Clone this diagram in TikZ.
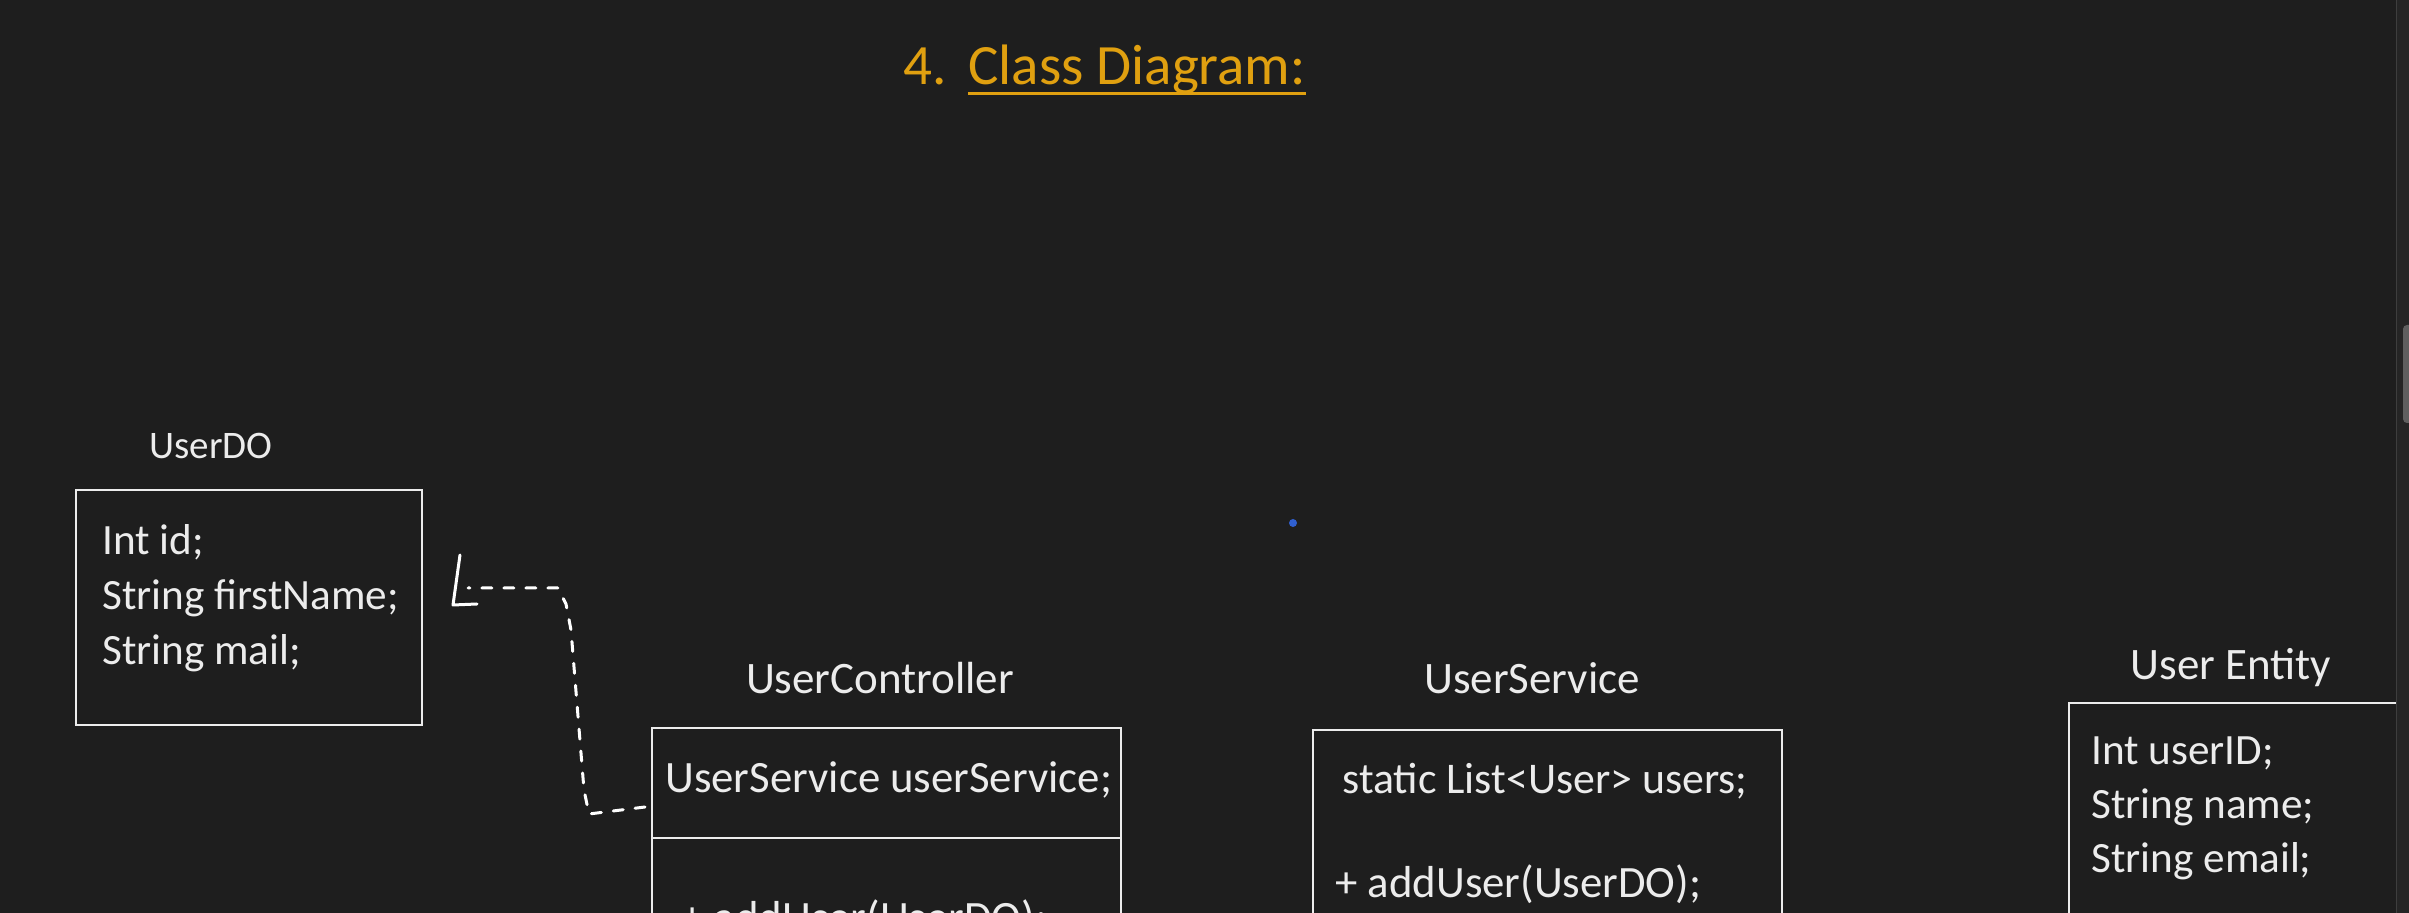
\documentclass[tikz,border=0pt]{standalone}
\usepackage{fontspec}
\setmainfont{Carlito}
\usetikzlibrary{positioning,calc}

\definecolor{bgdark}{RGB}{30,30,30}
\definecolor{paneldark}{RGB}{37,37,37}
\definecolor{thumbgray}{RGB}{95,95,95}
\definecolor{headorange}{RGB}{224,160,16}
\definecolor{chalk}{RGB}{236,236,236}
\definecolor{dotblue}{RGB}{48,96,208}

\tikzset{
  classbox/.style={draw=chalk, line width=1pt, inner sep=0pt, anchor=north west},
  classname/.style={text=chalk, font=\fontsize{22.5}{27}\selectfont, inner sep=0pt, anchor=base},
  member/.style={text=chalk, font=\fontsize{21.6}{27}\selectfont, inner sep=0pt, anchor=base west},
  bigmember/.style={member, font=\fontsize{22.4}{27}\selectfont},
  heading/.style={text=headorange, font=\fontsize{28.5}{34}\selectfont, inner sep=0pt, anchor=base west},
  scribble/.style={draw=white, line width=1.5pt, line cap=round, line join=round},
}

\begin{document}
\begin{tikzpicture}[x=0.5pt,y=-0.5pt]
\useasboundingbox (0,0) rectangle (2409,913);
\clip (0,0) rectangle (2409,913);
\fill[bgdark] (0,0) rectangle (2409,913);

% heading
\node[heading] (num) at (903,85) {4.};
\node[heading] (title) at (968,85) {Class Diagram:};
\draw[headorange, line width=1.5pt] ($(title.base west)+(0,9)$) -- ($(title.base east)+(0,9)$);

% UserDO
\node[classname, font=\fontsize{19.5}{24}\selectfont] (doname) at (211,459) {UserDO};
\node[classbox, minimum width=173pt, minimum height=117.5pt] (dobox) at (75,489) {};
\foreach \txt [count=\i] in {{Int id;}, {String firstName;}, {String mail;}}
  \node[member] (do-\i) at (102,500+55*\i) {\txt};

% UserController
\node[classname] (ctrlname) at (880,694) {UserController};
\node[classbox, minimum width=234.5pt, minimum height=150pt] (ctrlbox) at (651,727) {};
\draw[chalk, line width=1pt] ($(ctrlbox.north west)+(0,111)$) -- ($(ctrlbox.north east)+(0,111)$);
\node[bigmember] (ctrl-1) at (665,792) {UserService userService;};
\node[bigmember] (ctrl-2) at (681,932) {+ addUser(UserDO);};

% UserService
\node[classname] (svcname) at (1532,694) {UserService};
\node[classbox, minimum width=234.5pt, minimum height=150pt] (svcbox) at (1312,729) {};
\node[member, font=\fontsize{21.9}{27}\selectfont] (svc-1) at (1342,793) {static List<User> users;};
\node[bigmember] (svc-2) at (1335,897) {+ addUser(UserDO);};

% User Entity
\node[classname] (entname) at (2231,680) {User Entity};
\node[classbox, minimum width=200pt, minimum height=150pt] (entbox) at (2068,702) {};
\foreach \txt [count=\i] in {{Int userID;}, {String name;}, {String email;}}
  \node[member] (ent-\i) at (2091,710+54*\i) {\txt};

% hand drawn link
\coordinate (ctrlin) at ($(ctrlbox.north west)+(-6,80)$);
\coordinate (dotip) at ($(dobox.north east)+(45,99)$);
\draw[scribble, dash pattern=on 5pt off 6pt] (ctrlin) -- (589,814) -- (584,790) -- (571,630) -- (566,604) -- (558,588) -- (dotip);
\draw[scribble] ($(dotip)+(-8,-33)$) -- ($(dotip)+(-15,17)$) -- ($(dotip)+(9,16)$);

\fill[dotblue] (1293,523) circle (2pt);

% scrollbar
\fill[paneldark] (2396,0) rectangle (2409,913);
\draw[thumbgray!50!bgdark, line width=0.5pt] (2396,0) -- (2396,913);
\fill[thumbgray, rounded corners=2pt] (2403,325) rectangle (2414,423);
\end{tikzpicture}
\end{document}
